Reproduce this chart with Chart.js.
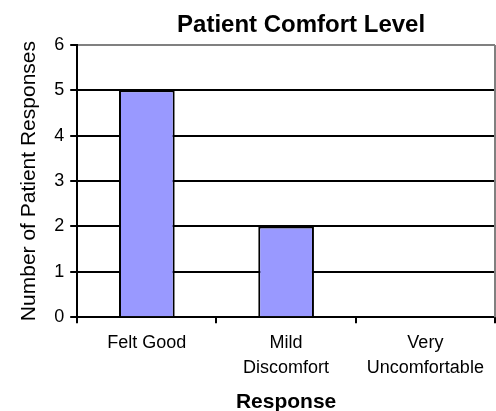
<!DOCTYPE html>
<html>
<head>
<meta charset="utf-8">
<script src="https://cdn.jsdelivr.net/npm/chart.js@4/dist/chart.umd.min.js"></script>
<style>
  html, body { margin: 0; padding: 0; background: #fff; }
  #wrap { width: 496px; height: 411px; }
</style>
</head>
<body>
<div id="wrap"><canvas id="comfort-chart" width="496" height="411"></canvas></div>
<script>
// Datos del gráfico
const categories = [['Felt Good'], ['Mild', 'Discomfort'], ['Very', 'Uncomfortable']];
const responses = [5, 2, 0];
const yTicks = [0, 1, 2, 3, 4, 5, 6];

const chartTitle = 'Patient Comfort Level';
const xTitle = 'Response';
const yTitle = 'Number of Patient Responses';

const FONT = 'Arial, "Liberation Sans", sans-serif';

// Título y borde gris (derecha) como en el original
const framePlugin = {
    id: 'frame',
    afterDraw(chart) {
        const { ctx, chartArea } = chart;
        ctx.save();
        ctx.strokeStyle = '#808080';
        ctx.lineWidth = 2;
        ctx.beginPath();
        ctx.moveTo(chartArea.right, chartArea.top);
        ctx.lineTo(chartArea.right, chartArea.bottom);
        ctx.stroke();

        ctx.fillStyle = '#000';
        ctx.font = 'bold 24px ' + FONT;
        ctx.textAlign = 'center';
        ctx.textBaseline = 'middle';
        ctx.fillText(chartTitle, (chartArea.left + chartArea.right) / 2 + 15, 25);
        ctx.restore();
    }
};

const ctx = document.getElementById('comfort-chart').getContext('2d');

new Chart(ctx, {
    type: 'bar',
    data: {
        labels: categories,
        datasets: [{
            label: 'Responses',
            data: responses,
            backgroundColor: '#9999FF',
            borderColor: '#000',
            borderWidth: 2,
            barPercentage: 0.4,
            categoryPercentage: 1
        }]
    },
    options: {
        responsive: false,
        animation: false,
        layout: { padding: { top: 45, right: 1, left: 17, bottom: 0 } },
        plugins: {
            legend: { display: false },
            tooltip: { enabled: false }
        },
        scales: {
            x: {
                offset: true,
                grid: {
                    offset: true,
                    drawOnChartArea: false,
                    color: '#000',
                    lineWidth: 2,
                    tickLength: 6
                },
                border: { color: '#000', width: 2 },
                ticks: {
                    color: '#000',
                    font: { family: FONT, size: 18, lineHeight: 1.35 },
                    maxRotation: 0,
                    padding: 8
                },
                title: {
                    display: true,
                    text: xTitle,
                    color: '#000',
                    font: { family: FONT, size: 21, weight: 'bold', lineHeight: 0.87 },
                    padding: { top: 5, bottom: 0 }
                }
            },
            y: {
                min: yTicks[0],
                max: yTicks[yTicks.length - 1],
                grid: {
                    color: c => (c.tick && c.tick.value === yTicks[yTicks.length - 1]) ? '#808080' : '#000',
                    tickColor: '#000',
                    lineWidth: 2,
                    tickLength: 7
                },
                border: { color: '#000', width: 2 },
                ticks: {
                    stepSize: 1,
                    color: '#000',
                    font: { family: FONT, size: 18 },
                    padding: 6
                },
                title: {
                    display: true,
                    text: yTitle,
                    color: '#000',
                    font: { family: FONT, size: 21 },
                    padding: { top: 0, bottom: 6 }
                }
            }
        }
    },
    plugins: [framePlugin]
});
</script>
</body>
</html>
